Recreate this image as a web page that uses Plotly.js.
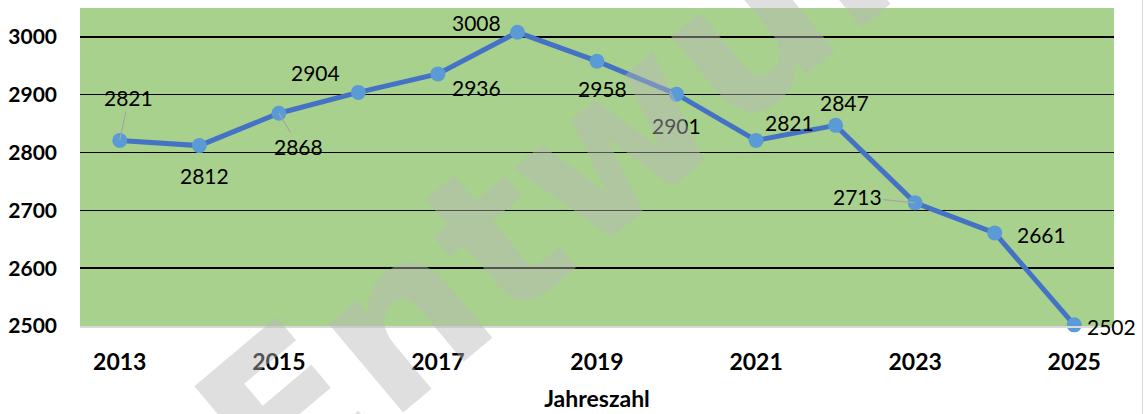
<!DOCTYPE html>
<html>
<head>
<meta charset="utf-8">
<script src="https://cdn.plot.ly/plotly-3.0.1.min.js"></script>
<style>html,body{margin:0;padding:0;background:#fff;}#chart{width:1145px;height:414px;}</style>
</head>
<body>
<div id="chart"></div>
<script>
const years = [2013, 2014, 2015, 2016, 2017, 2018, 2019, 2020, 2021, 2022, 2023, 2024, 2025];
const values = [2821, 2812, 2868, 2904, 2936, 3008, 2958, 2901, 2821, 2847, 2713, 2661, 2502];
const xTickLabels = ['2013', '2015', '2017', '2019', '2021', '2023', '2025'];
const yTickValues = [2500, 2600, 2700, 2800, 2900, 3000];
const xTitle = 'Jahreszahl';
const watermarkText = 'Entwurf';

// label offsets in pixels (text centre relative to point), and whether a leader line is drawn
const labelOffsets = [
  [9, -43, true], [5, 30, false], [20, 33, true], [-43, -20, false], [39, 14, false],
  [-41, -10, false], [5, 27, false], [0, 31, false], [33, -18, false], [9, -23, false],
  [-58, -6, true], [47, 2, false], [37, 2, false]
];

const labelFont = {family: 'Lato, sans-serif', size: 21, color: '#000000'};
const annotations = years.map((yr, i) => {
  const [dx, dy, leader] = labelOffsets[i];
  if (leader) {
    return {x: yr, y: values[i], xref: 'x', yref: 'y', text: String(values[i]),
      showarrow: true, ax: dx, ay: dy, arrowhead: 0, arrowwidth: 1.2,
      arrowcolor: '#A6A6A6', standoff: 0, startstandoff: 0, font: labelFont};
  }
  return {x: yr, y: values[i], xref: 'x', yref: 'y', text: String(values[i]),
    showarrow: false, xshift: dx, yshift: -dy, font: labelFont};
});

annotations.push({
  text: watermarkText, xref: 'paper', yref: 'paper', x: 0.496, y: 0.53,
  showarrow: false, textangle: -40,
  font: {family: '"DejaVu Sans", sans-serif', size: 212, weight: 'bold', color: 'rgba(185,185,185,0.45)'}
});

const trace = {
  x: years, y: values, type: 'scatter', mode: 'lines+markers',
  line: {color: '#4472C4', width: 5},
  marker: {color: '#5B9BD5', size: 15},
  cliponaxis: false, hoverinfo: 'none'
};

const layout = {
  width: 1145, height: 414,
  margin: {l: 80, r: 31, t: 8, b: 88},
  paper_bgcolor: '#ffffff', plot_bgcolor: '#A9D18E',
  showlegend: false,
  xaxis: {
    range: [2012.5, 2025.5], tickvals: xTickLabels.map(Number), ticktext: xTickLabels,
    showgrid: false, zeroline: false, showline: true, linecolor: '#D9D9D9', linewidth: 1.5,
    ticks: '', ticklabelstandoff: 15,
    tickfont: {family: 'Lato, sans-serif', size: 23, weight: 'bold', color: '#000000'},
    title: {text: xTitle, standoff: 17, font: {family: 'Lato, sans-serif', size: 23, weight: 'bold', color: '#000000'}}
  },
  yaxis: {
    range: [2500, 3050], tickvals: yTickValues,
    showgrid: true, gridcolor: '#000000', gridwidth: 1.5, zeroline: false, showline: false,
    ticks: '', ticklabelstandoff: 22,
    tickfont: {family: 'Lato, sans-serif', size: 21, weight: 'bold', color: '#000000'}
  },
  shapes: [
    {type: 'line', xref: 'paper', yref: 'paper', x0: 1.0275, x1: 1.0275, y0: -0.3, y1: 1.03, line: {color: '#D9D9D9', width: 1}}
  ],
  annotations: annotations
};

Plotly.newPlot('chart', [trace], layout, {displayModeBar: false, staticPlot: true});
</script>
</body>
</html>
